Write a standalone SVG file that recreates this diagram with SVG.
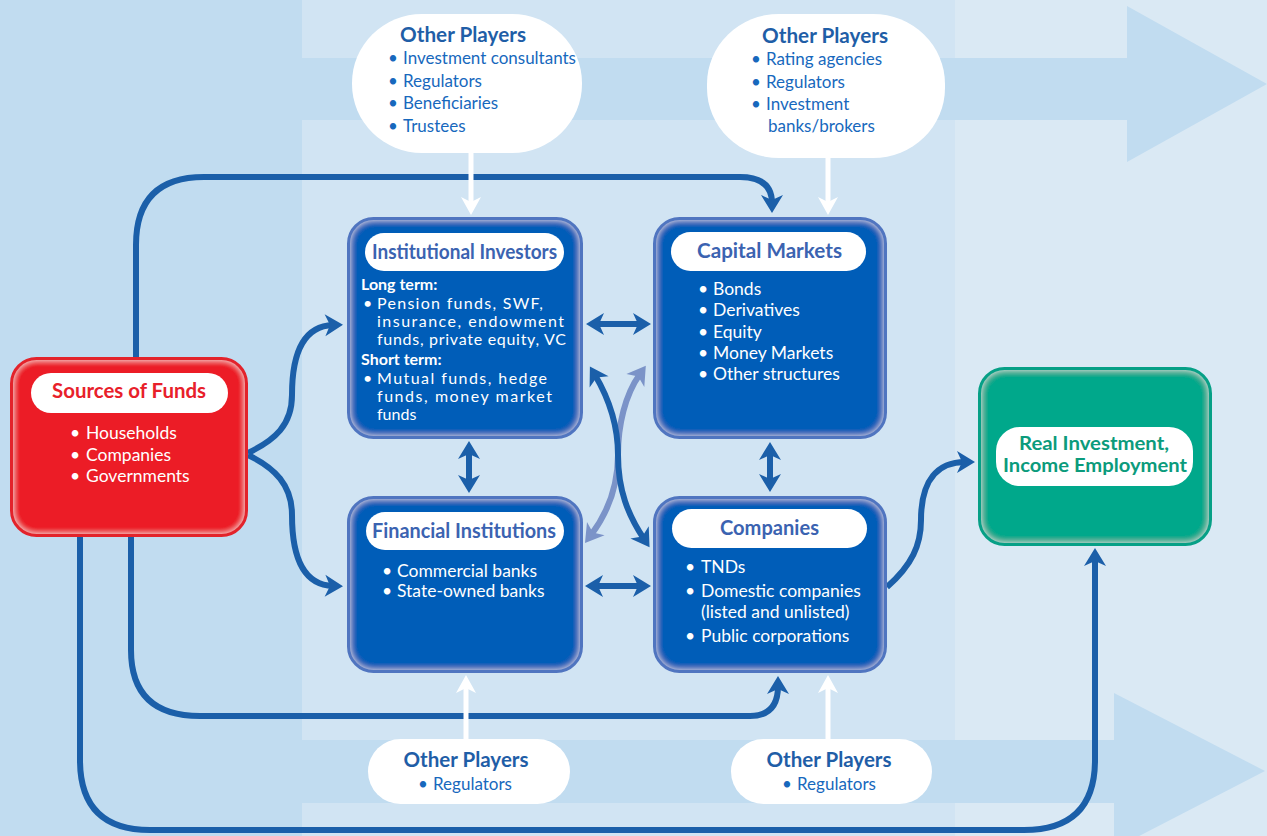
<svg xmlns="http://www.w3.org/2000/svg" width="1267" height="836" viewBox="0 0 1267 836">
<defs>
<style>
.ttl{font-family:Lato,"Liberation Sans",sans-serif;font-weight:700;font-size:21px;}
.ttl2{font-family:Lato,"Liberation Sans",sans-serif;font-weight:700;font-size:19px;fill:#0b9b7c;}
.bt{font-family:Lato,"Liberation Sans",sans-serif;font-size:17.5px;fill:#ffffff;}
.bs{font-family:Lato,"Liberation Sans",sans-serif;font-size:16px;fill:#ffffff;}
.bb{font-family:Lato,"Liberation Sans",sans-serif;font-size:16px;font-weight:700;fill:#ffffff;}
.op{font-family:Lato,"Liberation Sans",sans-serif;font-weight:700;font-size:21px;fill:#1f5ea7;}
.oi{font-family:Lato,"Liberation Sans",sans-serif;font-size:17px;fill:#1768bd;}
.conn{fill:none;stroke:#1b5fa9;stroke-width:6;}
.wconn{fill:none;stroke:#ffffff;stroke-width:5;}
.blue{fill:#005db8;}
.bstroke{fill:none;stroke:#5075c0;stroke-width:3;}
.pill{fill:#ffffff;}
.bubble{fill:#ffffff;}
</style>
<filter id="glow" x="-10%" y="-10%" width="120%" height="120%">
<feFlood flood-color="#ffffff" flood-opacity="0.95" result="f"/>
<feComposite in="f" in2="SourceAlpha" operator="out" result="o"/>
<feGaussianBlur in="o" stdDeviation="3.5" result="b"/>
<feComposite in="b" in2="SourceAlpha" operator="in" result="g"/>
<feMerge><feMergeNode in="SourceGraphic"/><feMergeNode in="g"/></feMerge>
</filter>
<marker id="ah" markerUnits="userSpaceOnUse" markerWidth="24" markerHeight="24" viewBox="0 -12 20 24" refX="8" refY="0" orient="auto-start-reverse">
<path d="M0,-11 L18,0 L0,11 L5,0 Z" fill="#1b5fa9"/>
</marker>
<marker id="ahl" markerUnits="userSpaceOnUse" markerWidth="24" markerHeight="24" viewBox="0 -12 20 24" refX="8" refY="0" orient="auto-start-reverse">
<path d="M0,-11 L18,0 L0,11 L5,0 Z" fill="#7b93c8"/>
</marker>
<marker id="ahw" markerUnits="userSpaceOnUse" markerWidth="24" markerHeight="24" viewBox="0 -12 20 24" refX="8" refY="0" orient="auto">
<path d="M0,-10 L18,0 L0,10 L5,0 Z" fill="#ffffff"/>
</marker>
</defs>

<g id="background">
<rect x="0" y="0" width="1267" height="836" fill="#c1dcf0"/>
<rect x="302" y="0" width="653" height="836" fill="#d1e4f3"/>
<rect x="955" y="0" width="312" height="836" fill="#dae9f4"/>
<polygon points="302,58 1127,58 1127,6 1267,84 1127,162 1127,120 302,120" fill="#c1dcf0"/>
<polygon points="302,740 1114,740 1114,693 1265,771 1114,849 1114,803 302,803" fill="#c1dcf0"/>
</g>

<g id="connectors">
<path class="conn" d="M136,357 V245 Q136,177 204,177 H740 Q772,177 772,203" marker-end="url(#ah)"/>
<path class="conn" d="M248,453 C275,440 292,425 292,395 C292,350 305,326 333,325" marker-end="url(#ah)"/>
<path class="conn" d="M248,455 C275,468 292,485 292,515 C292,560 305,585 333,586" marker-end="url(#ah)"/>
<path class="conn" d="M131,537 V650 Q131,716 200,716 H750 Q778,716 778,686" marker-end="url(#ah)"/>
<path class="conn" d="M80,537 V760 Q80,830 150,830 H1024 Q1095,830 1095,760 V558" marker-end="url(#ah)"/>
<path class="conn" d="M887,587 C912,565 921,545 921,520 C921,480 938,462 965,462" marker-end="url(#ah)"/>
<path class="conn" d="M596,324 H641" marker-start="url(#ah)" marker-end="url(#ah)"/>
<path class="conn" d="M595,586 H641" marker-start="url(#ah)" marker-end="url(#ah)"/>
<path class="conn" d="M469,451 V483" marker-start="url(#ah)" marker-end="url(#ah)"/>
<path class="conn" d="M770,452 V482" marker-start="url(#ah)" marker-end="url(#ah)"/>
<path class="conn" style="stroke:#7b93c8" d="M640,374 C625,395 618,425 618,455 C618,490 606,515 591,535" marker-start="url(#ahl)" marker-end="url(#ahl)"/>
<path class="conn" d="M595,375 C611,402 618,430 618,455 C618,490 628,515 644,539" marker-start="url(#ah)" marker-end="url(#ah)"/>
<path class="wconn" d="M471,150 V205" marker-end="url(#ahw)"/>
<path class="wconn" d="M828,156 V205" marker-end="url(#ahw)"/>
<path class="wconn" d="M466,740 V685" marker-end="url(#ahw)"/>
<path class="wconn" d="M828,740 V685" marker-end="url(#ahw)"/>
</g>

<g id="op-top-left">
<rect class="bubble" x="352" y="14" width="230" height="139" rx="70" ry="69"/>
<text class="op" x="463" y="42" text-anchor="middle" textLength="126" lengthAdjust="spacingAndGlyphs">Other Players</text>
<text class="oi" x="388" y="64">•</text><text class="oi" x="403" y="64">Investment consultants</text>
<text class="oi" x="388" y="87">•</text><text class="oi" x="403" y="87">Regulators</text>
<text class="oi" x="388" y="109">•</text><text class="oi" x="403" y="109">Beneficiaries</text>
<text class="oi" x="388" y="132">•</text><text class="oi" x="403" y="132">Trustees</text>
</g>

<g id="op-top-right">
<rect class="bubble" x="707" y="14" width="238" height="144" rx="72" ry="70"/>
<text class="op" x="825" y="43" text-anchor="middle" textLength="126" lengthAdjust="spacingAndGlyphs">Other Players</text>
<text class="oi" x="751" y="65">•</text><text class="oi" x="766" y="65">Rating agencies</text>
<text class="oi" x="751" y="88">•</text><text class="oi" x="766" y="88">Regulators</text>
<text class="oi" x="751" y="110">•</text><text class="oi" x="766" y="110">Investment</text>
<text class="oi" x="768" y="132">banks/brokers</text>
</g>

<g id="op-bottom-left">
<rect class="bubble" x="368" y="739" width="202" height="65" rx="32.5"/>
<text class="op" x="466" y="767" text-anchor="middle" textLength="125" lengthAdjust="spacingAndGlyphs">Other Players</text>
<text class="oi" x="418" y="790">•</text><text class="oi" x="433" y="790">Regulators</text>
</g>

<g id="op-bottom-right">
<rect class="bubble" x="731" y="739" width="201" height="65" rx="32.5"/>
<text class="op" x="829" y="767" text-anchor="middle" textLength="125" lengthAdjust="spacingAndGlyphs">Other Players</text>
<text class="oi" x="782" y="790">•</text><text class="oi" x="797" y="790">Regulators</text>
</g>

<g id="sources-of-funds">
<rect x="11.5" y="358.5" width="235" height="177" rx="25" fill="#ec1f27" filter="url(#glow)"/>
<rect x="11.5" y="358.5" width="235" height="177" rx="25" fill="none" stroke="#e3232b" stroke-width="3"/>
<rect class="pill" x="31" y="373" width="197" height="40" rx="20"/>
<text class="ttl" x="129" y="398" text-anchor="middle" fill="#e8202a" textLength="154" lengthAdjust="spacingAndGlyphs">Sources of Funds</text>
<text class="bt" x="70" y="439">•</text><text class="bt" x="86" y="439">Households</text>
<text class="bt" x="70" y="461">•</text><text class="bt" x="86" y="461">Companies</text>
<text class="bt" x="70" y="482">•</text><text class="bt" x="86" y="482">Governments</text>
</g>

<g id="institutional-investors">
<rect class="blue" x="348.5" y="218.5" width="233" height="219" rx="25" filter="url(#glow)"/>
<rect class="bstroke" x="348.5" y="218.5" width="233" height="219" rx="25"/>
<rect class="pill" x="365" y="233" width="199" height="38" rx="19"/>
<text class="ttl" x="464.5" y="259" text-anchor="middle" fill="#3b63b1" textLength="185" lengthAdjust="spacingAndGlyphs">Institutional Investors</text>
<text class="bb" x="361" y="290">Long term:</text>
<text class="bs" x="363" y="309">•</text><text class="bs" x="377" y="309" textLength="166" lengthAdjust="spacing">Pension funds, SWF,</text>
<text class="bs" x="377" y="327" textLength="187" lengthAdjust="spacing">insurance, endowment</text>
<text class="bs" x="377" y="345" textLength="189" lengthAdjust="spacing">funds, private equity, VC</text>
<text class="bb" x="361" y="365">Short term:</text>
<text class="bs" x="363" y="384">•</text><text class="bs" x="377" y="384" textLength="170" lengthAdjust="spacing">Mutual funds, hedge</text>
<text class="bs" x="377" y="402" textLength="175" lengthAdjust="spacing">funds, money market</text>
<text class="bs" x="377" y="420">funds</text>
</g>

<g id="capital-markets">
<rect class="blue" x="654.5" y="218.5" width="231" height="219" rx="25" filter="url(#glow)"/>
<rect class="bstroke" x="654.5" y="218.5" width="231" height="219" rx="25"/>
<rect class="pill" x="671" y="232" width="195" height="39" rx="19.5"/>
<text class="ttl" x="769.5" y="258" text-anchor="middle" fill="#3b63b1" textLength="145" lengthAdjust="spacingAndGlyphs">Capital Markets</text>
<text class="bt" x="698" y="295">•</text><text class="bt" x="713" y="295">Bonds</text>
<text class="bt" x="698" y="316">•</text><text class="bt" x="713" y="316">Derivatives</text>
<text class="bt" x="698" y="338">•</text><text class="bt" x="713" y="338">Equity</text>
<text class="bt" x="698" y="359">•</text><text class="bt" x="713" y="359">Money Markets</text>
<text class="bt" x="698" y="380">•</text><text class="bt" x="713" y="380">Other structures</text>
</g>

<g id="financial-institutions">
<rect class="blue" x="348.5" y="497.5" width="233" height="174" rx="25" filter="url(#glow)"/>
<rect class="bstroke" x="348.5" y="497.5" width="233" height="174" rx="25"/>
<rect class="pill" x="366" y="512" width="198" height="38" rx="19"/>
<text class="ttl" x="464" y="538" text-anchor="middle" fill="#3b63b1" textLength="184" lengthAdjust="spacingAndGlyphs">Financial Institutions</text>
<text class="bt" x="382" y="577">•</text><text class="bt" x="397" y="577">Commercial banks</text>
<text class="bt" x="382" y="597">•</text><text class="bt" x="397" y="597">State-owned banks</text>
</g>

<g id="companies">
<rect class="blue" x="654.5" y="497.5" width="231" height="174" rx="25" filter="url(#glow)"/>
<rect class="bstroke" x="654.5" y="497.5" width="231" height="174" rx="25"/>
<rect class="pill" x="672" y="509" width="195" height="39" rx="19.5"/>
<text class="ttl" x="769.5" y="535" text-anchor="middle" fill="#3b63b1" textLength="99" lengthAdjust="spacingAndGlyphs">Companies</text>
<text class="bt" x="685" y="573">•</text><text class="bt" x="701" y="573">TNDs</text>
<text class="bt" x="685" y="597">•</text><text class="bt" x="701" y="597">Domestic companies</text>
<text class="bt" x="701" y="618">(listed and unlisted)</text>
<text class="bt" x="685" y="642">•</text><text class="bt" x="701" y="642">Public corporations</text>
</g>

<g id="real-investment">
<rect x="979.5" y="368.5" width="231" height="176" rx="25" fill="#00a88b" filter="url(#glow)"/>
<rect x="979.5" y="368.5" width="231" height="176" rx="25" fill="none" stroke="#06a086" stroke-width="3"/>
<rect class="pill" x="996" y="427" width="197" height="59" rx="24"/>
<text class="ttl2" x="1094" y="450" text-anchor="middle" textLength="150" lengthAdjust="spacingAndGlyphs">Real Investment,</text>
<text class="ttl2" x="1095" y="472" text-anchor="middle" textLength="184" lengthAdjust="spacingAndGlyphs">Income Employment</text>
</g>
</svg>
